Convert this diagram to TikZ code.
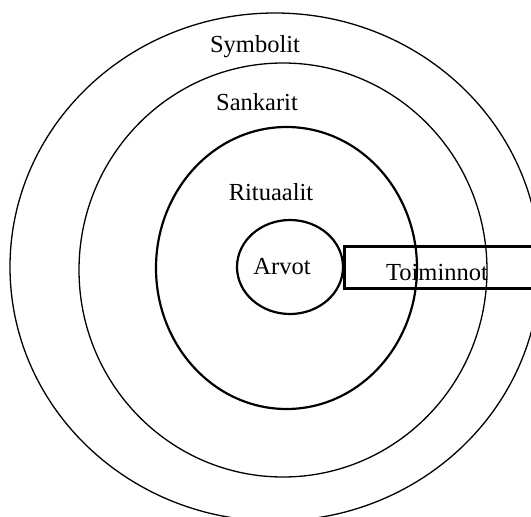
\documentclass[tikz,border=0pt]{standalone}
\usepackage{fontspec}
\setmainfont{Liberation Serif}
\begin{document}
\begin{tikzpicture}[x=1pt,y=-1pt,
  thinring/.style={draw=black,line width=1.3pt},
  thickring/.style={draw=black,line width=2.2pt},
  lbl/.style={font=\fontsize{24.5}{28}\selectfont,inner sep=0pt}]
\useasboundingbox (0,0) rectangle (531,517);
\clip (0,0) rectangle (531,517);
\draw[thinring] (275,267) ellipse [x radius=265, y radius=254];
\draw[thinring] (283,270) ellipse [x radius=204, y radius=207];
\draw[thickring] (286.5,268) ellipse [x radius=130.5, y radius=141];
\draw[thickring] (290,267) ellipse [x radius=53, y radius=47];
\draw[line width=3pt] (560,246) -- (344,246) -- (344,288) -- (560,288);
\node[lbl] (sym) at (255,47) {Symbolit};
\node[lbl] (san) at (257,102) {Sankarit};
\node[lbl] (rit) at (271,192) {Rituaalit};
\node[lbl] (arv) at (282,267) {Arvot};
\node[lbl] (toi) at (437,273) {Toiminnot};
\end{tikzpicture}
\end{document}
